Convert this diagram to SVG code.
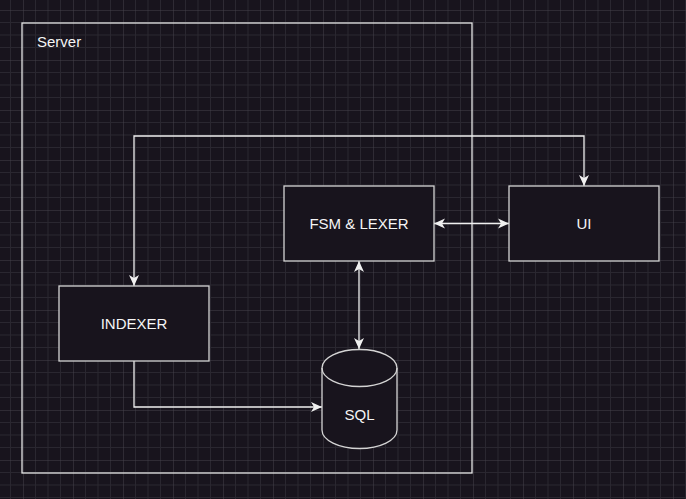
<svg xmlns="http://www.w3.org/2000/svg" width="686" height="499" viewBox="0 0 686 499">
  <style>
    .node { fill: #18141d; stroke: #d4d4d4; stroke-width: 1.3; }
    .frame { fill: none; stroke: #e6e6e6; stroke-width: 1.3; }
    .label { font-family: "Liberation Sans", Arial, sans-serif; font-size: 15px; fill: #f5f5f5; text-anchor: middle; }
    .conn { fill: none; stroke: #f0f0f0; stroke-width: 1.3; }
  </style>
  <defs>
    <pattern id="grid" x="23" y="10" width="50" height="50" patternUnits="userSpaceOnUse">
      <path d="M12.5,0 V50 M25,0 V50 M37.5,0 V50 M0,12.5 H50 M0,25 H50 M0,37.5 H50" stroke="#2a2730" stroke-width="1" fill="none"/>
      <path d="M0,0 V50 M0,0 H50" stroke="#45424b" stroke-width="1" fill="none"/>
    </pattern>
    <marker id="arrow" markerUnits="userSpaceOnUse" markerWidth="12" markerHeight="11" refX="11" refY="5" orient="auto-start-reverse" viewBox="0 0 12 10">
      <path d="M0,0 L11,5 L0,10 L3,5 Z" fill="#f0f0f0"/>
    </marker>
  </defs>
  <rect x="0" y="0" width="686" height="499" fill="#18141d"/>
  <rect x="0" y="0" width="686" height="499" fill="url(#grid)"/>

  <g id="server">
    <rect class="frame" x="22" y="23" width="450" height="450"/>
    <text x="37" y="47" font-family="Liberation Sans, Arial, sans-serif" font-size="15" fill="#f5f5f5">Server</text>
  </g>

  <g id="connectors">
    <path class="conn" d="M134,286 V136 H584 V186" marker-start="url(#arrow)" marker-end="url(#arrow)"/>
    <path class="conn" d="M434,223.5 H509" marker-start="url(#arrow)" marker-end="url(#arrow)"/>
    <path class="conn" d="M359,261 V349" marker-start="url(#arrow)" marker-end="url(#arrow)"/>
    <path class="conn" d="M134,361 V407 H322" marker-end="url(#arrow)"/>
  </g>

  <g id="fsm-lexer">
    <rect class="node" x="284" y="186" width="150" height="75"/>
    <text class="label" x="359" y="229">FSM &amp; LEXER</text>
  </g>

  <g id="ui">
    <rect class="node" x="509" y="186" width="150" height="75"/>
    <text class="label" x="584" y="229">UI</text>
  </g>

  <g id="indexer">
    <rect class="node" x="59" y="286" width="150" height="75"/>
    <text class="label" x="134" y="329">INDEXER</text>
  </g>

  <g id="sql">
    <path class="node" d="M322,368 A37.5,18.5 0 0 1 397,368 V430 A37.5,18.5 0 0 1 322,430 Z"/>
    <path class="node" fill="none" d="M322,368 A37.5,18.5 0 0 0 397,368" style="fill:none"/>
    <text class="label" x="359.5" y="420">SQL</text>
  </g>
</svg>
